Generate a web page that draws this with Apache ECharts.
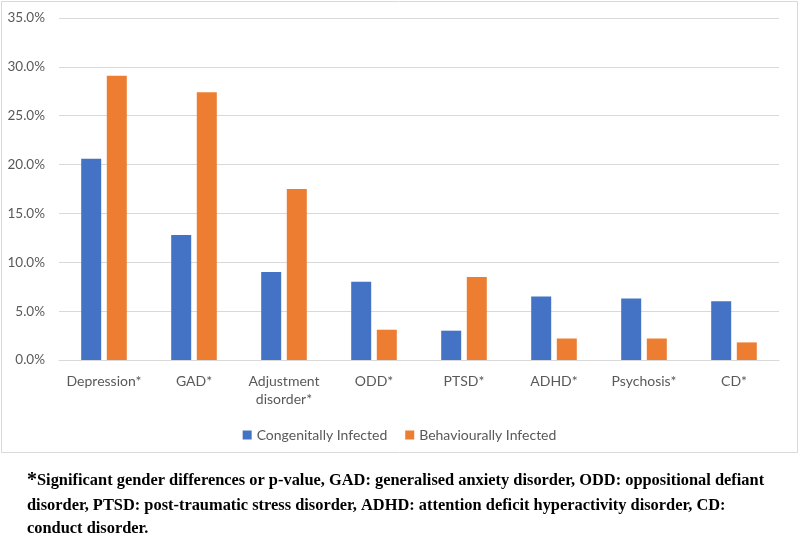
<!DOCTYPE html>
<html>
<head>
<meta charset="utf-8">
<script src="https://cdn.jsdelivr.net/npm/echarts@6/dist/echarts.min.js"></script>
<style>
html,body{margin:0;padding:0;background:#fff;}
#chart{width:799px;height:537px;}
</style>
</head>
<body>
<div id="chart"></div>
<script>
const categories = ['Depression*', 'GAD*', 'Adjustment\ndisorder*', 'ODD*', 'PTSD*', 'ADHD*', 'Psychosis*', 'CD*'];
const congenital = [20.6, 12.8, 9.0, 8.0, 3.0, 6.5, 6.3, 6.0];
const behavioural = [29.1, 27.4, 17.5, 3.1, 8.5, 2.2, 2.2, 1.8];
const seriesNames = ['Congenitally Infected', 'Behaviourally Infected'];
const yTicks = { min: 0, max: 35, interval: 5 };
const footnoteLines = [
  'Significant gender differences or p-value, GAD: generalised anxiety disorder, ODD: oppositional defiant',
  'disorder, PTSD: post-traumatic stress disorder, ADHD: attention deficit hyperactivity disorder, CD:',
  'conduct disorder.'
];

const chart = echarts.init(document.getElementById('chart'), null, { renderer: 'canvas' });
const labelFont = 'Lato, "Open Sans", sans-serif';
const noteFont = 'bold 16.4px "Liberation Serif", "Times New Roman", serif';
chart.setOption({
  animation: false,
  backgroundColor: '#fff',
  grid: { left: 59, right: 20, top: 18, bottom: 177, containLabel: false },
  legend: {
    data: seriesNames,
    left: 'center',
    top: 423,
    itemWidth: 9,
    itemHeight: 9,
    itemGap: 18,
    icon: 'rect',
    textStyle: { color: '#595959', fontSize: 14, fontFamily: labelFont }
  },
  xAxis: {
    type: 'category',
    data: categories,
    axisLine: { lineStyle: { color: '#d9d9d9', width: 1 } },
    axisTick: { show: false },
    axisLabel: { color: '#595959', fontSize: 14, fontFamily: labelFont, margin: 12, lineHeight: 18, interval: 0 }
  },
  yAxis: {
    type: 'value',
    min: yTicks.min,
    max: yTicks.max,
    interval: yTicks.interval,
    axisLine: { show: false },
    axisTick: { show: false },
    splitLine: { lineStyle: { color: '#d9d9d9', width: 1 } },
    axisLabel: {
      color: '#595959', fontSize: 13.5, fontFamily: labelFont, margin: 14,
      formatter: v => v.toFixed(1) + '%'
    }
  },
  series: [
    { name: seriesNames[0], type: 'bar', data: congenital, barWidth: 20, barGap: '28%', itemStyle: { color: '#4472C4' } },
    { name: seriesNames[1], type: 'bar', data: behavioural, barWidth: 20, barGap: '28%', itemStyle: { color: '#ED7D31' } }
  ],
  graphic: [
    {
      type: 'rect', silent: true, z: -1,
      shape: { x: 1.5, y: 1.5, width: 796, height: 451 },
      style: { fill: 'none', stroke: '#d9d9d9', lineWidth: 1 }
    },
    {
      type: 'text', left: 27, top: 471,
      style: {
        text: '{a|*}{b|' + footnoteLines[0] + '}',
        rich: {
          a: { fontFamily: '"Liberation Serif", "Times New Roman", serif', fontWeight: 'bold', fontSize: 20, fill: '#000', verticalAlign: 'bottom' },
          b: { fontFamily: '"Liberation Serif", "Times New Roman", serif', fontWeight: 'bold', fontSize: 16.4, fill: '#000' }
        }
      }
    },
    {
      type: 'text', left: 27, top: 498,
      style: { text: footnoteLines[1], font: noteFont, fill: '#000' }
    },
    {
      type: 'text', left: 27, top: 521,
      style: { text: footnoteLines[2], font: noteFont, fill: '#000' }
    }
  ]
});
</script>
</body>
</html>
